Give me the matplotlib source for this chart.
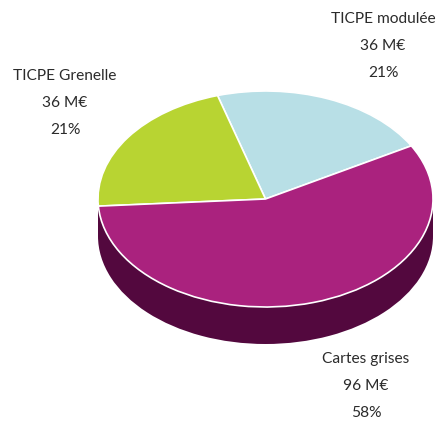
import matplotlib
matplotlib.use('Agg')
import matplotlib.pyplot as plt
from matplotlib.patches import Rectangle

names = ['TICPE modulée', 'TICPE Grenelle', 'Cartes grises']
values = [36, 36, 96]
percents = ['21%', '21%', '58%']
colors = ['#b8dfe6', '#b8d432', '#aa227e']
side_color = '#53083e'

W, H = 437, 421
depth = 37 / 108

plt.rcParams['font.family'] = ['Lato', 'DejaVu Sans']
fig = plt.figure(figsize=(W / 100, H / 100), dpi=100)
ax = fig.add_axes([98 / W, (H - 307) / H, 335 / W, 216 / H])

# side of the pie, drawn first then covered by the top
ax.pie([1], center=(0, -depth), radius=1, colors=[side_color], startangle=0)
ax.add_patch(Rectangle((-1, -depth), 2, depth, color=side_color, lw=0, clip_on=False))

wedges, _ = ax.pie(values, colors=colors, startangle=29.5, radius=1,
                   wedgeprops=dict(edgecolor='white', linewidth=1.2))
for w in ax.patches:
    w.set_clip_on(False)

ax.set_aspect('auto')
ax.set_xlim(-1, 1)
ax.set_ylim(-1, 1)
ax.axis('off')

# label centres, in pixels
label_pos = [(383, 19), (65, 76), (366, 359)]
for name, v, pct, (x, y) in zip(names, values, percents, label_pos):
    lines = [name, f'{v} M€', pct]
    for i, s in enumerate(lines):
        fig.text(x / W, 1 - (y + i * 27) / H, s, ha='center', va='center',
                 fontsize=11.2, color='#2b2b2b')

fig.savefig('out.png', dpi=100)
